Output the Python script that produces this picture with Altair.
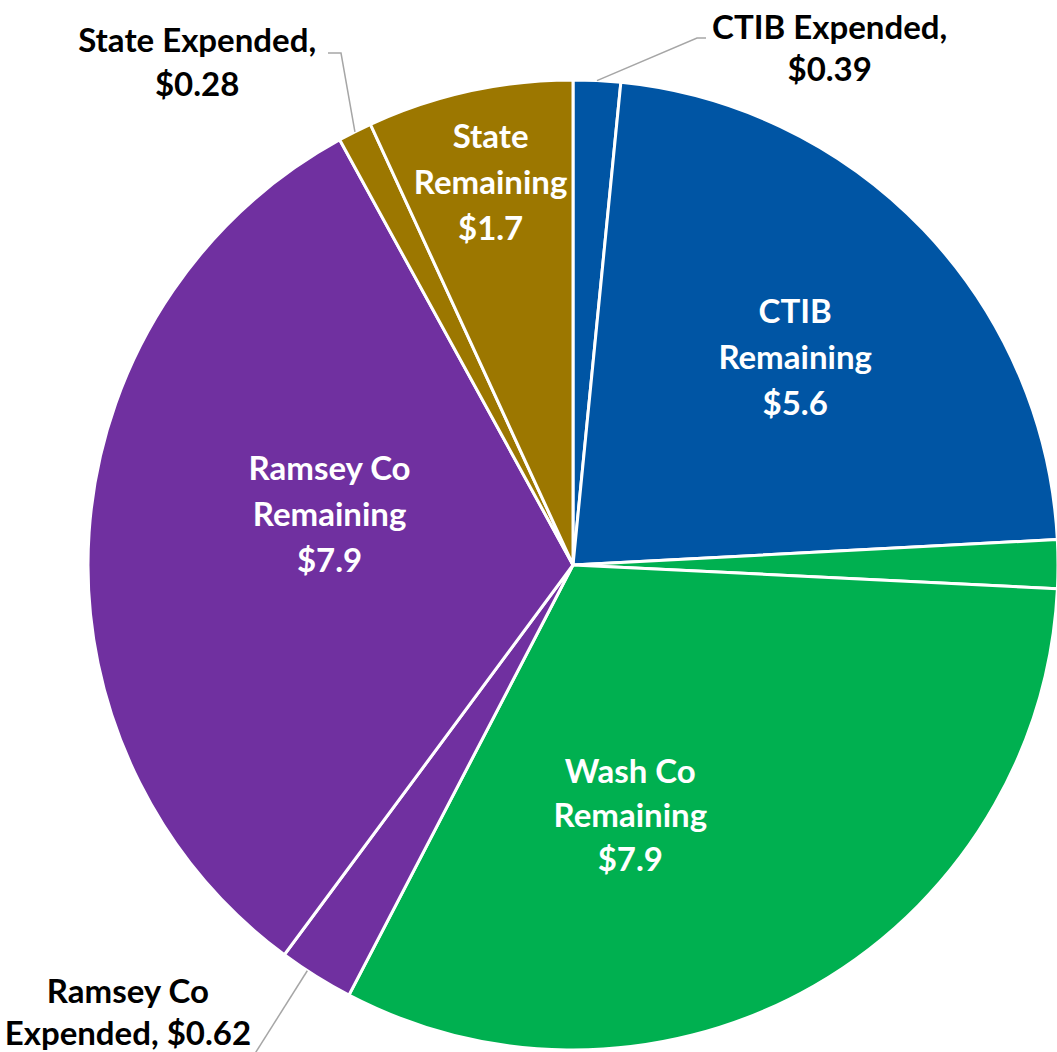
import math
import altair as alt
import pandas as pd

categories = ["CTIB Expended", "CTIB Remaining", "Wash Co Expended", "Wash Co Remaining",
              "Ramsey Co Expended", "Ramsey Co Remaining", "State Expended", "State Remaining"]
values = [0.39, 5.6, 0.4, 7.9, 0.62, 7.9, 0.28, 1.7]
colors = ["#0055A4", "#0055A4", "#00B050", "#00B050", "#7030A0", "#7030A0", "#9C7700", "#9C7700"]
labels = ["CTIB Expended,\n$0.39", "CTIB\nRemaining\n$5.6", "", "Wash Co\nRemaining\n$7.9",
          "Ramsey Co\nExpended, $0.62", "Ramsey Co\nRemaining\n$7.9", "State Expended,\n$0.28",
          "State\nRemaining\n$1.7"]

df = pd.DataFrame({"idx": list(range(len(categories))), "cat": categories,
                   "value": values, "label": labels})

W, H = 968, 974
R = 485
FONT = "Lato"

pie = alt.Chart(df).mark_arc(outerRadius=R, stroke="white", strokeWidth=3).encode(
    theta=alt.Theta("value:Q", stack=True),
    order=alt.Order("idx:Q"),
    color=alt.Color("cat:N", scale=alt.Scale(domain=categories, range=colors), legend=None),
)

# label placement: (category, radius, dx, dy of block centre, colour, line count, line height)
label_specs = [
    ("CTIB Remaining", 303, 3, 3, "white", 3, 46),
    ("Wash Co Remaining", 290, -87, 0, "white", 3, 44),
    ("Ramsey Co Remaining", 244, 0, -32, "white", 3, 46),
    ("State Remaining", 390, 1, 0, "white", 3, 46),
    ("CTIB Expended", 500, 232, -16, "black", 2, 42),
    ("State Expended", 500, -151, -54, "black", 2, 44),
    ("Ramsey Co Expended", 500, -180, 25, "black", 2, 42),
]

layers = [pie]
for cat, r, dx, dy, col, n, lh in label_specs:
    t = alt.Chart(df).transform_calculate(
        txt=f"datum.cat == '{cat}' ? datum.label : ''"
    ).mark_text(
        font=FONT, fontWeight="bold", fontSize=33, lineHeight=lh, lineBreak="\n",
        align="center", baseline="middle", color=col, dx=dx,
        dy=dy - (n - 1) * lh / 2,
    ).encode(
        theta=alt.Theta("value:Q", stack=True),
        order=alt.Order("idx:Q"),
        detail="cat:N",
        text="txt:N",
        radius=alt.value(r),
    )
    layers.append(t)

# leader lines (start at slice edge mid-angle, computed from the data)
total = sum(values)
cum = 0
mids = {}
for c, v in zip(categories, values):
    mids[c] = (cum + v / 2) / total * 2 * math.pi
    cum += v
cx, cy = W / 2, H / 2


def edge(cat, rr=R, shift=0.0):
    a = mids[cat] + shift
    return cx + rr * math.sin(a), cy - rr * math.cos(a)


leader_rows = []
s = edge("CTIB Expended")
for i, (x, y) in enumerate([s, (608, -40), (617, -40)]):
    leader_rows.append({"g": "a", "o": i, "px": x, "py": y})
s = edge("State Expended")
for i, (x, y) in enumerate([s, (252, -25), (239, -25)]):
    leader_rows.append({"g": "b", "o": i, "px": x, "py": y})
s = edge("Ramsey Co Expended", shift=math.radians(1.2))
for i, (x, y) in enumerate([s, (160, 985)]):
    leader_rows.append({"g": "c", "o": i, "px": x, "py": y})
ldf = pd.DataFrame(leader_rows)

leaders = alt.Chart(ldf).mark_line(color="#A6A6A6", strokeWidth=1.5).encode(
    x=alt.X("px:Q", scale=None, axis=None),
    y=alt.Y("py:Q", scale=None, axis=None),
    detail="g:N",
    order="o:Q",
)
layers.append(leaders)

chart = alt.layer(*layers).properties(
    width=W, height=H,
    autosize=alt.AutoSizeParams(type="none"),
    padding={"left": 89, "top": 78, "right": 0, "bottom": 0},
    background="white",
).configure_view(stroke=None)

chart.save("out.html", embed_options={"renderer": "svg", "actions": False})
